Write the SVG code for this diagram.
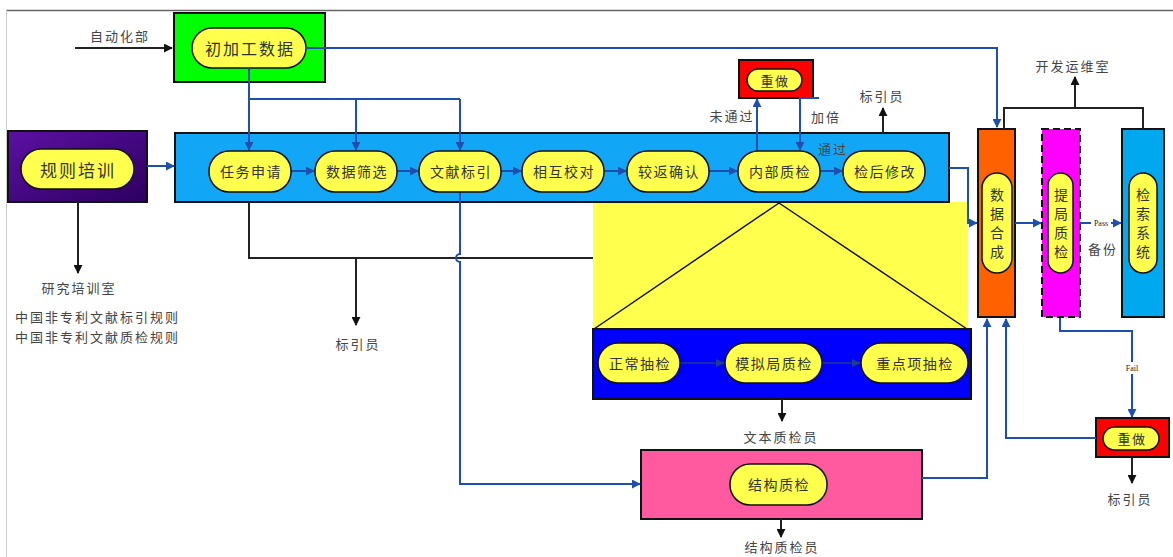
<svg xmlns="http://www.w3.org/2000/svg" width="1173" height="557" viewBox="0 0 1173 557">
  <defs>
    <marker id="ab" viewBox="0 0 10 10" refX="9" refY="5" markerWidth="4.5" markerHeight="4.5" orient="auto">
      <path d="M0,0 L10,5 L0,10 z" fill="#1f4fae"/>
    </marker>
    <marker id="ak" viewBox="0 0 10 10" refX="9" refY="5" markerWidth="4.5" markerHeight="4.5" orient="auto">
      <path d="M0,0 L10,5 L0,10 z" fill="#111"/>
    </marker>
    <linearGradient id="purple" x1="0" y1="0" x2="1" y2="1">
      <stop offset="0" stop-color="#5c10a3"/>
      <stop offset="1" stop-color="#2c0060"/>
    </linearGradient>
    <style>
      .box{stroke:#111;stroke-width:2}
      .pill{fill:#ffff4d;stroke:#111;stroke-width:1.5}
      .t{font-family:"Noto Sans CJK SC","Noto Sans",sans-serif;text-anchor:middle;dominant-baseline:central}
      .pt{font-size:14px;fill:#333;letter-spacing:1.5px}
      .vt{font-size:14px;fill:#333}
      .lbl{font-size:13px;fill:#444;letter-spacing:2px}
      .tiny{font-family:"Liberation Serif",serif;font-size:8px;fill:#222;text-anchor:middle;dominant-baseline:central}
      .bl{stroke:#1f4fae;stroke-width:2;fill:none;marker-end:url(#ab)}
      .blx{stroke:#1f4fae;stroke-width:2;fill:none}
      .bk{stroke:#222;stroke-width:2;fill:none;marker-end:url(#ak)}
      .bkx{stroke:#222;stroke-width:2;fill:none}
    </style>
  </defs>

  <!-- page frame -->
  <line x1="6" y1="10.5" x2="1173" y2="10.5" stroke="#666" stroke-width="1.5"/>
  <line x1="6.5" y1="10" x2="6.5" y2="557" stroke="#ccc" stroke-width="1"/>

  <!-- yellow detail area under internal QC -->
  <g id="detail-area">
    <rect x="593" y="202" width="375" height="128" fill="#ffff4d"/>
    <path d="M779 203 L594 329 M779 203 L967 329" stroke="#111" stroke-width="1.5" fill="none"/>
  </g>

  <!-- source data -->
  <g id="raw-data">
    <rect class="box" x="174" y="13" width="151" height="69" fill="#00ff00"/>
    <rect class="pill" x="192" y="28" width="114" height="40" rx="20"/>
    <text class="t" x="250" y="48" font-size="16" fill="#333" letter-spacing="2">初加工数据</text>
  </g>

  <!-- rules training -->
  <g id="training">
    <rect class="box" x="8" y="131" width="139" height="71" fill="url(#purple)"/>
    <rect class="pill" x="21" y="149" width="113" height="40" rx="20"/>
    <text class="t" x="78" y="169" font-size="17" fill="#333" letter-spacing="2">规则培训</text>
  </g>

  <!-- main indexing flow container -->
  <g id="main-flow">
    <rect class="box" x="175" y="133" width="774" height="69" fill="#12a6f6"/>
  </g>

  <!-- text QC container -->
  <g id="text-qc">
    <rect class="box" x="593" y="329" width="378" height="70" fill="#0000ff"/>
  </g>

  <!-- redo after internal QC -->
  <g id="redo-top">
    <rect class="box" x="739" y="60" width="74" height="38" fill="#ff0000"/>
    <rect class="pill" x="747" y="69" width="55" height="22" rx="11"/>
    <text class="t" x="775" y="80" font-size="13" fill="#333" letter-spacing="1.5">重做</text>
  </g>

  <!-- structure QC -->
  <g id="struct-qc">
    <rect class="box" x="641" y="450" width="281" height="69" fill="#ff5a9f"/>
    <rect class="pill" x="730" y="464" width="97" height="41" rx="20"/>
    <text class="t pt" x="779" y="484">结构质检</text>
  </g>

  <!-- data merge -->
  <g id="merge">
    <rect class="box" x="978" y="129" width="37" height="188" fill="#ff6000"/>
    <rect class="pill" x="982" y="173" width="30" height="100" rx="15"/>
    <text class="t vt"><tspan x="997" y="194">数</tspan><tspan x="997" y="213">据</tspan><tspan x="997" y="232">合</tspan><tspan x="997" y="251">成</tspan></text>
  </g>

  <!-- office QC -->
  <g id="office-qc">
    <rect x="1042" y="129" width="38" height="188" fill="#ff00ff" stroke="#111" stroke-width="2" stroke-dasharray="7,4"/>
    <rect class="pill" x="1048" y="173" width="25" height="100" rx="12.5"/>
    <text class="t vt"><tspan x="1061" y="194">提</tspan><tspan x="1061" y="213">局</tspan><tspan x="1061" y="232">质</tspan><tspan x="1061" y="251">检</tspan></text>
  </g>

  <!-- search system -->
  <g id="search">
    <rect class="box" x="1122" y="129" width="42" height="188" fill="#00a8f0"/>
    <rect class="pill" x="1129" y="173" width="28" height="100" rx="14"/>
    <text class="t vt"><tspan x="1143" y="194">检</tspan><tspan x="1143" y="213">索</tspan><tspan x="1143" y="232">系</tspan><tspan x="1143" y="251">统</tspan></text>
  </g>

  <!-- redo after office QC -->
  <g id="redo-bottom">
    <rect class="box" x="1096" y="418" width="73" height="39" fill="#ff0000"/>
    <rect class="pill" x="1103" y="427" width="56" height="23" rx="11.5"/>
    <text class="t" x="1132" y="438" font-size="13" fill="#333" letter-spacing="1.5">重做</text>
  </g>

  <!-- connectors -->
  <g id="connectors">
    <path class="bk" d="M75 48 H172"/>
    <path class="bl" d="M306 48 H997 V127"/>
    <path class="bl" d="M249 68 V150"/>
    <path class="blx" d="M249 99 H460"/>
    <path class="bl" d="M356 99 V150"/>
    <path class="bl" d="M460 99 V150"/>
    <path class="bl" d="M147 166 H174"/>
    <path class="bl" d="M291 171 H314"/>
    <path class="bl" d="M397 171 H418"/>
    <path class="bl" d="M501 171 H521"/>
    <path class="bl" d="M604 171 H626"/>
    <path class="bl" d="M709 171 H737"/>
    <path class="bl" d="M820 171 H842"/>
    <path class="bl" d="M757 151 V99"/>
    <path class="bl" d="M819 98 H800 V150"/>
    <path class="bl" d="M949 168 H968 V223 H977"/>
    <path class="bkx" d="M249 202 V258 H593"/>
    <path class="bk" d="M356 258 V325"/>
    <path class="bl" d="M460 192 V254 a4 4 0 0 0 0 8 V484 H640"/>
    <path class="bk" d="M78 202 V273"/>
    <path class="bk" d="M883 133 V108"/>
    <path class="bkx" d="M1004 129 V108 H1143 V129"/>
    <path class="bk" d="M1075 108 V77"/>
    <path class="bk" d="M782 399 V421"/>
    <path class="bk" d="M781 519 V537"/>
    <path class="bl" d="M922 478 H987 V319"/>
    <path class="bl" d="M1096 438 H1006 V319"/>
    <path class="bl" d="M1015 223 H1041"/>
    <path class="bl" d="M1080 223 H1121"/>
    <path class="bl" d="M1060 318 V331 H1132 V417"/>
    <path class="bk" d="M1132 457 V483"/>
    <path d="M680 363 H724 M822 363 H860" stroke="#1a3d8f" stroke-width="1.5" fill="none"/>
    <path d="M716 359 L725 363 L716 367 z M852 359 L861 363 L852 367 z" fill="#1a3d8f"/>
  </g>

  <!-- flow steps -->
  <g id="n-apply"><rect class="pill" x="209" y="151" width="82" height="41" rx="20"/><text class="t pt" x="251" y="171">任务申请</text></g>
  <g id="n-filter"><rect class="pill" x="315" y="151" width="82" height="41" rx="20"/><text class="t pt" x="357" y="171">数据筛选</text></g>
  <g id="n-index"><rect class="pill" x="419" y="151" width="82" height="41" rx="20"/><text class="t pt" x="461" y="171">文献标引</text></g>
  <g id="n-cross"><rect class="pill" x="522" y="151" width="82" height="41" rx="20"/><text class="t pt" x="564" y="171">相互校对</text></g>
  <g id="n-confirm"><rect class="pill" x="627" y="151" width="82" height="41" rx="20"/><text class="t pt" x="669" y="171">较返确认</text></g>
  <g id="n-internal-qc"><rect class="pill" x="738" y="151" width="82" height="41" rx="20"/><text class="t pt" x="780" y="171">内部质检</text></g>
  <g id="n-fix"><rect class="pill" x="843" y="151" width="82" height="41" rx="20"/><text class="t pt" x="885" y="171">检后修改</text></g>

  <!-- text QC steps -->
  <g id="n-normal"><rect class="pill" x="598" y="343" width="82" height="40" rx="20"/><text class="t pt" x="640" y="363">正常抽检</text></g>
  <g id="n-sim"><rect class="pill" x="725" y="343" width="97" height="40" rx="20"/><text class="t pt" x="774" y="363">模拟局质检</text></g>
  <g id="n-key"><rect class="pill" x="861" y="343" width="107" height="40" rx="20"/><text class="t pt" x="915" y="363">重点项抽检</text></g>

  <!-- labels -->
  <g id="labels">
    <text class="t lbl" x="120" y="35">自动化部</text>
    <text class="t lbl" x="732" y="115">未通过</text>
    <text class="t lbl" x="826" y="116">加倍</text>
    <text class="t lbl" x="833" y="148">通过</text>
    <text class="t lbl" x="882" y="95">标引员</text>
    <text class="t lbl" x="1073" y="65">开发运维室</text>
    <rect x="1091" y="218" width="20" height="10" fill="#fff"/>
    <text class="tiny" x="1101" y="223">Pass</text>
    <text class="t lbl" x="1103" y="248" font-size="14">备份</text>
    <rect x="1123" y="362" width="18" height="12" fill="#fff"/>
    <text class="tiny" x="1132" y="368">Fail</text>
    <text class="t lbl" x="1130" y="498">标引员</text>
    <text class="t lbl" x="79" y="287" letter-spacing="3">研究培训室</text>
    <text class="lbl" x="15" y="322" font-family="Noto Sans CJK SC, sans-serif" letter-spacing="3.2">中国非专利文献标引规则</text>
    <text class="lbl" x="15" y="342" font-family="Noto Sans CJK SC, sans-serif" letter-spacing="3.2">中国非专利文献质检规则</text>
    <text class="t lbl" x="358" y="343">标引员</text>
    <text class="t lbl" x="781" y="436">文本质检员</text>
    <text class="t lbl" x="782" y="546">结构质检员</text>
  </g>
</svg>
